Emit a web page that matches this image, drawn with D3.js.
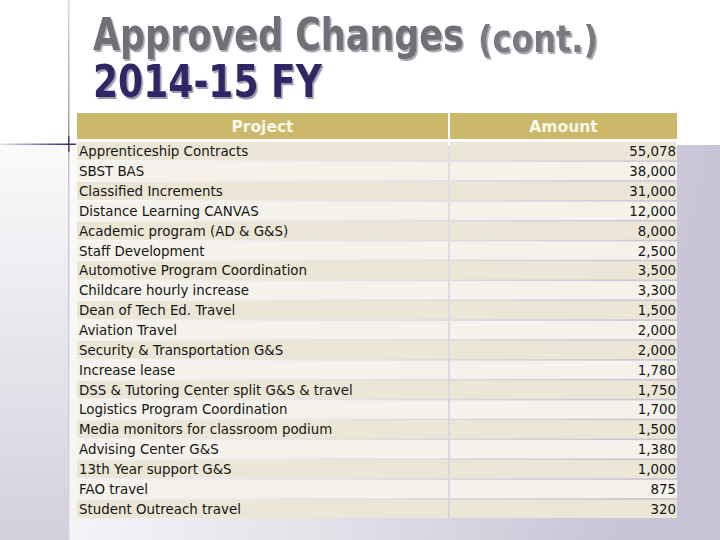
<!DOCTYPE html>
<html><head><meta charset="utf-8">
<script src="https://cdn.jsdelivr.net/npm/d3@7"></script>
<style>body{margin:0;background:#fff}svg{display:block}</style>
</head><body>
<div id="c"></div>
<script>
const titleLine1 = "Approved Changes";
const titleLine1b = "(cont.)";
const titleLine2 = "2014-15 FY";
const headers = ["Project", "Amount"];
const projects = [
  "Apprenticeship Contracts","SBST BAS","Classified Increments","Distance Learning CANVAS",
  "Academic program (AD & G&S)","Staff Development","Automotive Program Coordination",
  "Childcare hourly  increase","Dean of Tech Ed. Travel","Aviation Travel",
  "Security & Transportation G&S","Increase lease","DSS & Tutoring Center split G&S & travel",
  "Logistics Program Coordination","Media monitors for classroom podium","Advising Center G&S",
  "13th Year support  G&S","FAO travel","Student Outreach travel"
];
const amounts = [55078,38000,31000,12000,8000,2500,3500,3300,1500,2000,2000,1780,1750,1700,1500,1380,1000,875,320];

const W = 720, H = 540;
const svg = d3.select("#c").append("svg").attr("width", W).attr("height", H);
const defs = svg.append("defs");

const g1 = defs.append("linearGradient").attr("id","mainBg").attr("x1","0").attr("y1","0").attr("x2","1").attr("y2","0.15");
g1.append("stop").attr("offset","0").attr("stop-color","#fbfbfc");
g1.append("stop").attr("offset","0.55").attr("stop-color","#e2dfe8");
g1.append("stop").attr("offset","1").attr("stop-color","#c7c2d5");
const g2 = defs.append("linearGradient").attr("id","leftBg").attr("x1","0").attr("y1","0").attr("x2","0").attr("y2","1");
g2.append("stop").attr("offset","0").attr("stop-color","#fafafb");
g2.append("stop").attr("offset","1").attr("stop-color","#d3d0dc");
const g3 = defs.append("linearGradient").attr("id","hLine").attr("x1","0").attr("y1","0").attr("x2","1").attr("y2","0");
g3.append("stop").attr("offset","0").attr("stop-color","#e4e2ea");
g3.append("stop").attr("offset","0.9").attr("stop-color","#3a2d6c");
g3.append("stop").attr("offset","1").attr("stop-color","#3a2d6c");
const g4 = defs.append("linearGradient").attr("id","vLine").attr("x1","0").attr("y1","0").attr("x2","0").attr("y2","1");
g4.append("stop").attr("offset","0").attr("stop-color","#d8d8dc");
g4.append("stop").attr("offset","0.25").attr("stop-color","#9c9ca6");
g4.append("stop").attr("offset","0.3").attr("stop-color","#c8c6d0");
g4.append("stop").attr("offset","1").attr("stop-color","#d8d5e0");

function addShadow(id, color) {
  const f = defs.append("filter").attr("id", id).attr("x", "-5%").attr("y", "-10%").attr("width", "115%").attr("height", "130%");
  f.append("feDropShadow").attr("dx", 2).attr("dy", 2).attr("stdDeviation", 0.4)
    .attr("flood-color", color).attr("flood-opacity", 1);
}
addShadow("shGrey", "#a9a9b0");
addShadow("shPurple", "#9d9ab0");

// backgrounds
svg.append("rect").attr("x",0).attr("y",145).attr("width",69).attr("height",H-145).attr("fill","url(#leftBg)");
svg.append("rect").attr("x",69).attr("y",145).attr("width",W-69).attr("height",H-145).attr("fill","url(#mainBg)");
svg.append("rect").attr("x",68).attr("y",0).attr("width",1.5).attr("height",H).attr("fill","url(#vLine)");
svg.append("rect").attr("x",0).attr("y",143.5).attr("width",76).attr("height",1.5).attr("fill","url(#hLine)");
svg.append("rect").attr("x",68).attr("y",136).attr("width",1.5).attr("height",16).attr("fill","#3a2d6c").attr("opacity",0.8);

// titles (horizontally scaled to the reference widths)
function titleText(x, y, txt, size, color, filt, len) {
  const t = svg.append("text").attr("x", 0).attr("y", 0)
    .attr("font-family", "DejaVu Sans, Verdana, sans-serif")
    .attr("font-weight", "bold").attr("font-size", size)
    .attr("fill", color)
    .attr("filter", `url(#${filt})`)
    .text(txt);
  const nat = t.node().getComputedTextLength();
  t.attr("transform", `translate(${x},${y}) scale(${len / nat},1)`);
}
titleText(93, 50, titleLine1, 45, "#6f6f77", "shGrey", 371);
titleText(478, 52, titleLine1b, 38, "#7a7a82", "shGrey", 120);
titleText(93, 97, titleLine2, 45, "#2e2565", "shPurple", 229);

// table
const x0 = 77, xSplit = 448, x1 = 677;
const col = d3.scaleOrdinal().domain(headers).range([[x0, xSplit], [xSplit + 2, x1]]);
const y = d3.scaleBand().domain(d3.range(projects.length)).range([142, 518]).paddingInner(0.08);
const fmt = d3.format(",");

// header
svg.selectAll("rect.h").data(headers).enter().append("rect")
  .attr("x", d => col(d)[0]).attr("y", 113).attr("width", d => col(d)[1] - col(d)[0]).attr("height", 26)
  .attr("fill", "#ccb86b");
svg.selectAll("text.h").data(headers).enter().append("text")
  .attr("x", d => (col(d)[0] + col(d)[1]) / 2).attr("y", 132)
  .attr("text-anchor", "middle").attr("font-family", "DejaVu Sans, sans-serif")
  .attr("font-weight", "bold").attr("font-size", 15.5).attr("fill", "#fbf7e8").text(d => d);

const rows = svg.selectAll("g.row").data(projects).enter().append("g");
rows.each(function(p, i) {
  const g = d3.select(this);
  const fill = i % 2 === 0 ? "#ece6d6" : "#f4f2eb";
  headers.forEach(h => {
    g.append("rect").attr("x", col(h)[0]).attr("y", y(i)).attr("width", col(h)[1] - col(h)[0])
      .attr("height", y.bandwidth()).attr("fill", fill);
  });
  g.append("text").attr("x", 79).attr("y", y(i) + y.bandwidth() / 2 + 5)
    .attr("font-family", "DejaVu Sans, Verdana, sans-serif").attr("font-size", 13.4)
    .attr("fill", "#151515").text(p);
  g.append("text").attr("x", 676).attr("y", y(i) + y.bandwidth() / 2 + 5).attr("text-anchor", "end")
    .attr("font-family", "DejaVu Sans, Verdana, sans-serif").attr("font-size", 13.4)
    .attr("fill", "#151515").text(fmt(amounts[i]));
});
</script>
</body></html>
